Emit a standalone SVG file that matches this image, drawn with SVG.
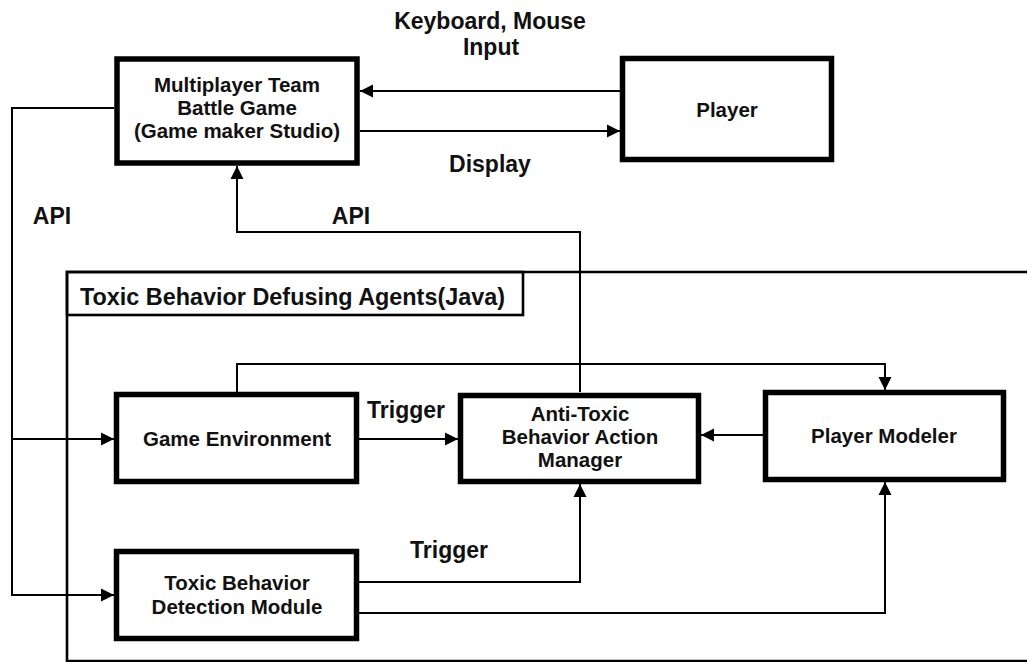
<svg xmlns="http://www.w3.org/2000/svg" width="1027" height="662" viewBox="0 0 1027 662">
<style>
.box{fill:#fff;stroke:#000;stroke-width:5.5}
.cont{fill:none;stroke:#000;stroke-width:2.6}
.ln{fill:none;stroke:#000;stroke-width:2}
.t{font-family:"Liberation Sans",Arial,sans-serif;font-weight:bold;fill:#111;text-anchor:middle}
.n{font-size:20.5px}
.l{font-size:23px}
</style>
<defs>
<marker id="ah" markerUnits="userSpaceOnUse" markerWidth="14" markerHeight="14" refX="13" refY="7" orient="auto">
<path d="M0,0.5 L13,7 L0,13.5 Z" fill="#000"/>
</marker>
</defs>
<g id="container">
<path class="cont" d="M1027,272 H67 V661 H1027"/>
<rect class="cont" x="67" y="272" width="456" height="43" fill="#fff"/>
<text class="t" x="80" y="305" style="font-size:23.4px;text-anchor:start">Toxic Behavior Defusing Agents(Java)</text>
</g>
<g id="connectors">
<path class="ln" d="M620,91 H360" marker-end="url(#ah)"/>
<path class="ln" d="M360,131 H620" marker-end="url(#ah)"/>
<path class="ln" d="M580,392 V232 H237 V166" marker-end="url(#ah)"/>
<path class="ln" d="M114,108 H12 V595 H114" marker-end="url(#ah)"/>
<path class="ln" d="M12,439 H114" marker-end="url(#ah)"/>
<path class="ln" d="M237,392 V364 H885 V390" marker-end="url(#ah)"/>
<path class="ln" d="M359,439 H458" marker-end="url(#ah)"/>
<path class="ln" d="M763,435 H701" marker-end="url(#ah)"/>
<path class="ln" d="M359,582 H580 V484" marker-end="url(#ah)"/>
<path class="ln" d="M359,613 H885 V482" marker-end="url(#ah)"/>
<text class="t l" x="490" y="29">Keyboard, Mouse</text>
<text class="t l" x="491" y="55">Input</text>
<text class="t l" x="490" y="172">Display</text>
<text class="t l" x="52" y="224">API</text>
<text class="t l" x="351" y="224">API</text>
<text class="t l" x="406" y="418">Trigger</text>
<text class="t l" x="449" y="558">Trigger</text>
</g>
<g id="multiplayer">
<rect class="box" x="117" y="59" width="240" height="104"/>
<text class="t" x="237" y="92" style="font-size:20.5px">Multiplayer Team</text>
<text class="t" x="237" y="115" style="font-size:20.5px">Battle Game</text>
<text class="t" x="237" y="138" style="font-size:20.5px">(Game maker Studio)</text>
</g>
<g id="player">
<rect class="box" x="622.5" y="58.5" width="209" height="101"/>
<text class="t n" x="727" y="117">Player</text>
</g>
<g id="game-environment">
<rect class="box" x="116.5" y="394.5" width="240" height="87"/>
<text class="t n" x="237" y="446">Game Environment</text>
</g>
<g id="action-manager">
<rect class="box" x="460.5" y="395.5" width="238" height="86"/>
<text class="t n" x="580" y="421">Anti-Toxic</text>
<text class="t n" x="580" y="444">Behavior Action</text>
<text class="t n" x="580" y="467">Manager</text>
</g>
<g id="player-modeler">
<rect class="box" x="765.5" y="392.5" width="238" height="87"/>
<text class="t n" x="884" y="443">Player Modeler</text>
</g>
<g id="detection">
<rect class="box" x="116.5" y="551.5" width="240" height="87"/>
<text class="t n" x="237" y="590">Toxic Behavior</text>
<text class="t n" x="237" y="614">Detection Module</text>
</g>
</svg>
